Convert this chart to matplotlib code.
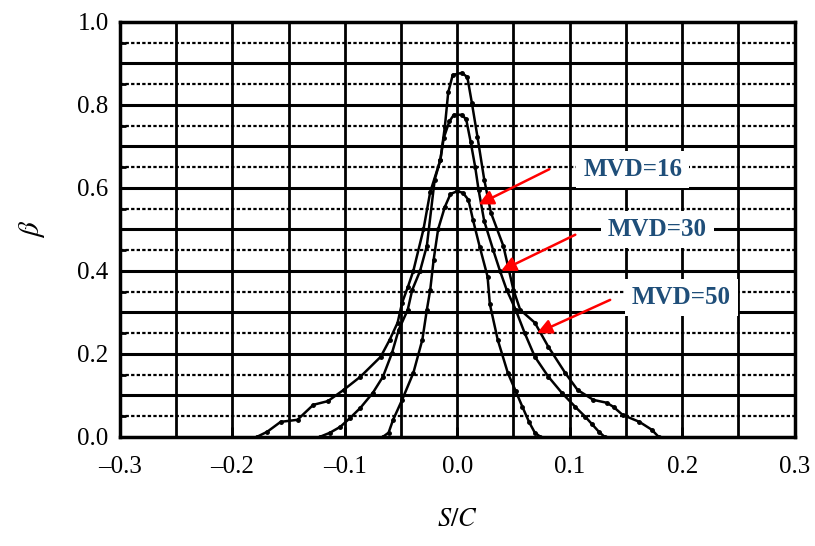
import numpy as np
import matplotlib.pyplot as plt
from matplotlib.ticker import MultipleLocator

# S/C positions and collection efficiency beta
x_mvd50 = [-0.178, -0.169, -0.157, -0.142, -0.128, -0.115, -0.101, -0.086, -0.068, -0.060,
           -0.053, -0.049, -0.044, -0.039, -0.030, -0.024, -0.015, -0.011, -0.008, -0.004,
           0.004, 0.009, 0.013, 0.018, 0.024, 0.030, 0.041, 0.050, 0.056, 0.069, 0.081,
           0.096, 0.107, 0.121, 0.133, 0.139, 0.147, 0.162, 0.173, 0.179]
b_mvd50 = [0.0, 0.012, 0.036, 0.041, 0.077, 0.086, 0.113, 0.145, 0.193, 0.234,
           0.275, 0.323, 0.36, 0.40, 0.50, 0.59, 0.667, 0.747, 0.83, 0.872,
           0.877, 0.867, 0.805, 0.723, 0.62, 0.54, 0.46, 0.354, 0.306, 0.275, 0.217,
           0.154, 0.113, 0.089, 0.082, 0.072, 0.053, 0.036, 0.017, 0.0]

x_mvd30 = [-0.122, -0.113, -0.104, -0.095, -0.086, -0.075, -0.066, -0.058, -0.052, -0.044,
           -0.040, -0.033, -0.027, -0.020, -0.015, -0.012, -0.007, -0.003, 0.004, 0.008,
           0.012, 0.016, 0.019, 0.024, 0.032, 0.038, 0.044, 0.052, 0.060, 0.069, 0.081,
           0.093, 0.105, 0.114, 0.120, 0.126, 0.131]
b_mvd30 = [0.0, 0.01, 0.024, 0.046, 0.07, 0.106, 0.145, 0.202, 0.258, 0.306,
           0.354, 0.40, 0.46, 0.62, 0.667, 0.72, 0.76, 0.776, 0.776, 0.765,
           0.71, 0.65, 0.595, 0.52, 0.45, 0.40, 0.354, 0.306, 0.25, 0.193, 0.145,
           0.106, 0.072, 0.048, 0.03, 0.012, 0.0]

x_mvd16 = [-0.066, -0.061, -0.057, -0.049, -0.039, -0.031, -0.027, -0.024, -0.021, -0.017,
           -0.011, -0.006, 0.0, 0.005, 0.010, 0.014, 0.020, 0.027, 0.029, 0.036,
           0.045, 0.052, 0.058, 0.064, 0.069, 0.074]
b_mvd16 = [0.0, 0.01, 0.041, 0.089, 0.154, 0.234, 0.306, 0.354, 0.426, 0.50,
           0.554, 0.585, 0.592, 0.588, 0.571, 0.523, 0.458, 0.386, 0.32, 0.234,
           0.154, 0.11, 0.072, 0.035, 0.01, 0.0]

x_ticks = [-0.3, -0.2, -0.1, 0.0, 0.1, 0.2, 0.3]
x_ticklabels = ['\u20130.3', '\u20130.2', '\u20130.1', '0.0', '0.1', '0.2', '0.3']
y_ticks = [0.0, 0.2, 0.4, 0.6, 0.8, 1.0]
y_ticklabels = ['0.0', '0.2', '0.4', '0.6', '0.8', '1.0']

labels = ['MVD=16', 'MVD=30', 'MVD=50']
label_pos = [(0.156, 0.645), (0.178, 0.50), (0.199, 0.335)]
arrow_tail = [(0.082, 0.645), (0.105, 0.487), (0.136, 0.33)]
arrow_tip = [(0.019, 0.56), (0.039, 0.40), (0.071, 0.25)]

plt.rcParams['font.family'] = ['Liberation Serif', 'DejaVu Serif']
plt.rcParams['mathtext.fontset'] = 'stix'

fig = plt.figure(figsize=(8.15, 5.46), dpi=100)
ax = fig.add_axes([0.147, 0.200, 0.828, 0.760])

ax.set_xlim(-0.3, 0.3)
ax.set_ylim(0.0, 1.0)

# grid: solid every 0.1, dotted at odd 0.05 levels
for yv in np.arange(0.1, 1.0, 0.1):
    ax.axhline(yv, color='black', lw=2.2, zorder=1)
for yv in np.arange(0.05, 1.0, 0.1):
    ax.axhline(yv, color='black', lw=1.6, ls=(0, (1.5, 1.0)), zorder=1)
for xv in np.arange(-0.25, 0.3, 0.05):
    ax.axvline(xv, color='black', lw=2.0, zorder=1)

for xs, bs in [(x_mvd50, b_mvd50), (x_mvd30, b_mvd30), (x_mvd16, b_mvd16)]:
    ax.plot(xs, bs, color='black', lw=1.8, marker='o', ms=2.5, zorder=3)

for lab, pos, tail, tip in zip(labels, label_pos, arrow_tail, arrow_tip):
    ax.text(pos[0], pos[1], lab, color='#1F4E79', fontsize=18, fontweight='bold',
            ha='center', va='center', zorder=4,
            bbox=dict(facecolor='white', edgecolor='none', pad=5))
    ax.annotate('', xy=tip, xytext=tail, zorder=5,
                arrowprops=dict(arrowstyle='-|>', color='red', lw=1.8,
                                mutation_scale=22, shrinkA=0, shrinkB=0))

for sp in ax.spines.values():
    sp.set_linewidth(2.5)

ax.set_xticks(x_ticks, labels=x_ticklabels)
ax.set_yticks(y_ticks, labels=y_ticklabels)
ax.yaxis.set_minor_locator(MultipleLocator(0.05))
ax.tick_params(which='both', direction='in', labelsize=18, width=2)
ax.tick_params(which='major', length=7)
ax.tick_params(axis='x', which='major', pad=14)
ax.tick_params(axis='y', which='major', pad=8)
ax.tick_params(which='minor', length=4)

ax.set_xlabel('$S/C$', fontsize=19, labelpad=22)
ax.set_ylabel(r'$\beta$', fontsize=21, labelpad=22)

fig.savefig('out.png', dpi=100)
